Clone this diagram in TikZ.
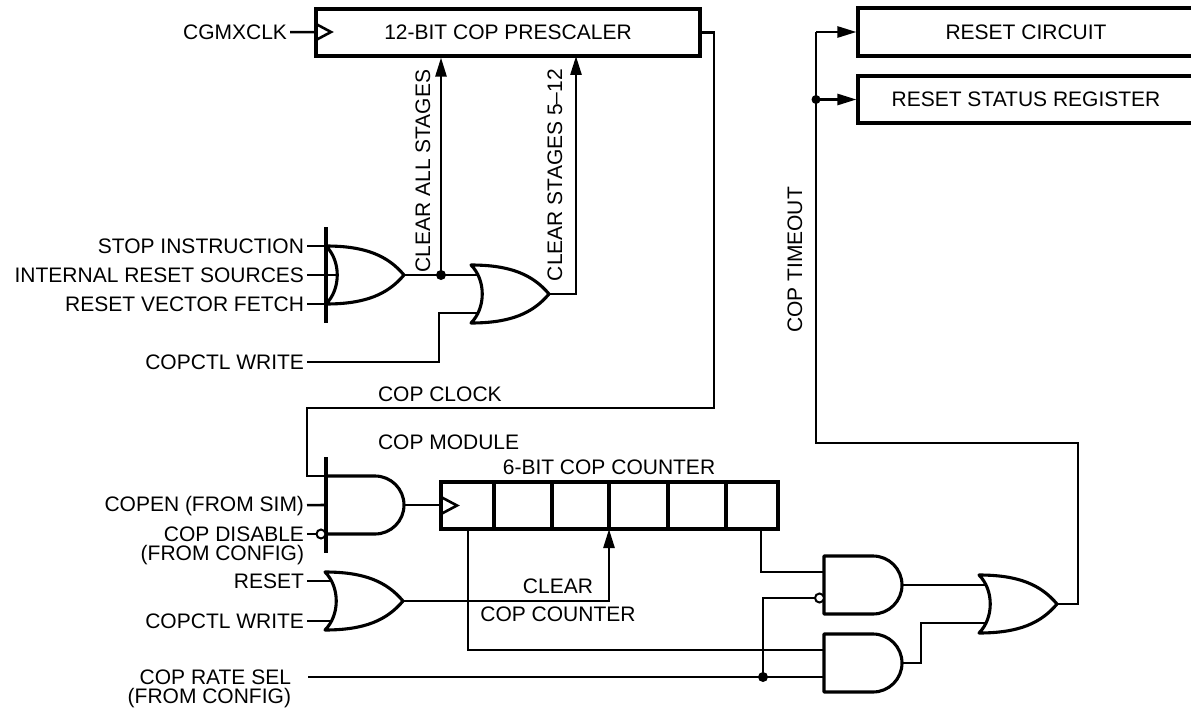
\documentclass[tikz,border=0pt]{standalone}
\usepackage{fontspec}
\setmainfont{Liberation Sans}
\usetikzlibrary{arrows.meta}
\newcommand{\orgate}[2]{
	\begin{scope}[shift={(#2)}]
	\draw[gate] (0,0) .. controls (15,15) and (15,43) .. (0,58)
		.. controls (40,58) and (62,48) .. (78,29)
		.. controls (62,10) and (40,0) .. (0,0) -- cycle;
	\coordinate (#1-top) at (0,0);
	\coordinate (#1-in1) at (7,10);
	\coordinate (#1-mid) at (11,29);
	\coordinate (#1-in2) at (7,48);
	\coordinate (#1-bot) at (0,58);
	\coordinate (#1-out) at (78,29);
	\end{scope}
}
\newcommand{\andgate}[2]{
	\begin{scope}[shift={(#2)}]
	\draw[gate] (0,0) -- (49,0) arc[start angle=-90, end angle=90, radius=29] -- (0,58) -- cycle;
	\coordinate (#1-top) at (0,0);
	\coordinate (#1-in1) at (0,16);
	\coordinate (#1-mid) at (0,29);
	\coordinate (#1-in2) at (0,42);
	\coordinate (#1-bot) at (0,58);
	\coordinate (#1-out) at (78,29);
	\end{scope}
}

\begin{document}
\begin{tikzpicture}[x=1pt,y=-1pt,
	wire/.style={line width=2.6pt},
	gate/.style={line width=3.1pt, line join=round},
	box/.style={draw, line width=3.1pt, inner sep=0pt, font=\fontsize{21}{24}\selectfont},
	bubble/.style={circle, draw, fill=white, line width=2pt, inner sep=0pt, minimum size=9pt},
	lbl/.style={font=\fontsize{21}{24}\selectfont, inner sep=0pt, outer sep=3pt},
	arr/.style={wire, -{Triangle[length=19pt,width=11pt]}}]
	\useasboundingbox (0,0) rectangle (1191,709);

	% blocks
	\node[box, minimum width=384pt, minimum height=47pt] (presc) at (508,32.5) {12-BIT COP PRESCALER};
	\node[box, minimum width=336pt, minimum height=48pt] (rc) at (1026,32) {RESET CIRCUIT};
	\node[box, minimum width=336pt, minimum height=47pt] (rsr) at (1026,99.5) {RESET STATUS REGISTER};
	\node[box, minimum width=337pt, minimum height=47pt] (cnt) at (609.5,505.5) {};
	\foreach \x in {494,552,609,668,726}
		\draw[gate] (\x,482) -- (\x,529);
	\draw[wire] (316,24) -- (331,32) -- (316,40);
	\draw[wire] (441,497) -- (457,505.5) -- (441,514);

	% gates
	\orgate{orA}{326,246}
	\orgate{orB}{471,265}
	\orgate{orC}{325,572}
	\orgate{orD}{979,575}
	\andgate{andA}{326,476}
	\andgate{andB}{824,556}
	\andgate{andC}{824,634}
	\draw[gate] (326,227) -- (326,323);
	\draw[gate] (326,457) -- (326,553);
	\node[bubble] (bubA) at (321,534) {};
	\node[bubble] (bubB) at (819.5,598) {};

	% labels
	\node[lbl, anchor=east] (cgm) at (290,32) {CGMXCLK};
	\node[lbl, anchor=east] (stop) at (307,246) {STOP INSTRUCTION};
	\node[lbl, anchor=east] (irs) at (307,275) {INTERNAL RESET SOURCES};
	\node[lbl, anchor=east] (rvf) at (307,304) {RESET VECTOR FETCH};
	\node[lbl, anchor=east] (wrA) at (307,362) {COPCTL WRITE};
	\node[lbl, anchor=east] (copen) at (307,506) {COPEN (FROM SIM)};
	\node[lbl, anchor=east] (dis) at (307,534) {COP DISABLE};
	\node[lbl, anchor=east] at (307,555) {(FROM CONFIG)};
	\node[lbl, anchor=east] (rst) at (307,581) {RESET};
	\node[lbl, anchor=east] (wrB) at (307,621) {COPCTL WRITE};
	\node[lbl, anchor=east] (rate) at (294,677) {COP RATE SEL};
	\node[lbl, anchor=east] at (294,698) {(FROM CONFIG)};
	\coordinate (rate-in) at (308,677);
	\node[lbl, rotate=90] at (423,171) {CLEAR ALL STAGES};
	\node[lbl, rotate=90] at (555,175) {CLEAR STAGES 5\textendash12};
	\node[lbl, rotate=90] at (795,260) {COP TIMEOUT};
	\node[lbl, anchor=west] at (375,394) {COP CLOCK};
	\node[lbl, anchor=west] at (375,442) {COP MODULE};
	\node[lbl, anchor=south] at (609,478) {6-BIT COP COUNTER};
	\node[lbl] at (558,586) {CLEAR};
	\node[lbl] at (558,614) {COP COUNTER};

	% prescaler side
	\draw[wire] (cgm) -- (presc);
	\draw[wire] (stop) -- (orA-top);
	\draw[wire] (irs) -- (orA-mid);
	\draw[wire] (rvf) -- (orA-bot);
	\coordinate (dotA) at (441,275);
	\draw[wire] (orA-out) -- (dotA) -- (orB-in1);
	\draw[arr] (dotA) -- (dotA |- presc.south);
	\draw[wire] (wrA) -| (439,313) -- (orB-in2);
	\draw[arr] (orB-out) -| (576,56);
	\fill (dotA) circle (5);

	% cop clock
	\draw[wire] (presc) -| (714,408) -| (307,476) -- (andA-top);
	\draw[wire] (copen) -- (andA-mid);
	\draw[wire] (dis) -- (bubA);
	\draw[wire] (andA-out) -- (cnt.west |- andA-out);

	% counter outputs
	\draw[wire] (468,529) |- (andC-in1);
	\draw[wire] (761,529) |- (andB-in1);
	\draw[wire] (rst) -- (rst -| orC-in1);
	\draw[wire] (wrB) -- (wrB -| orC-in2);
	\draw[arr] (orC-out) -| (609,529);
	\coordinate (dotB) at (763,677);
	\draw[wire] (rate-in) -- (andC-bot |- dotB);
	\draw[wire] (dotB) |- (bubB);
	\fill (dotB) circle (5);

	% timeout
	\draw[wire] (andB-out) -- (orD-in1 |- andB-out);
	\draw[wire] (andC-out) -- (921,663) |- (orD-in2);
	\coordinate (dotC) at (816,99.5);
	\draw[wire] (orD-out) -| (1078,443) -| (816,32);
	\draw[arr] (816,32) -- (rc.west);
	\draw[arr] (dotC) -- (rsr.west);
	\fill (dotC) circle (4.5);
\end{tikzpicture}
\end{document}
